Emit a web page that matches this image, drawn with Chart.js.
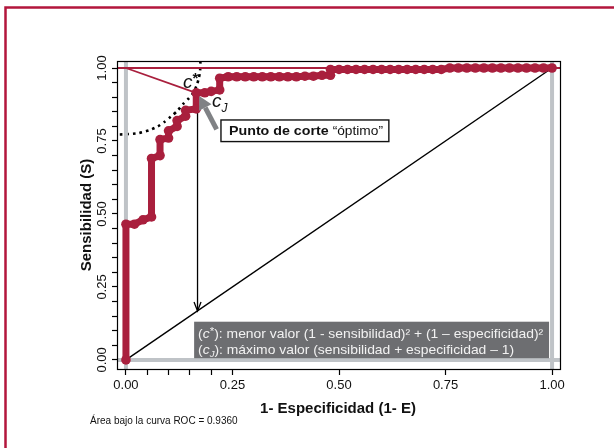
<!DOCTYPE html>
<html><head><meta charset="utf-8">
<script src="https://cdn.jsdelivr.net/npm/chart.js@4/dist/chart.umd.min.js"></script>
<style>html,body{margin:0;padding:0;background:#fff;}canvas{display:block}</style>
</head><body>
<canvas id="c" width="614" height="448"></canvas>
<script>
// ---- data ----
const rocFPR = [0,0,0.02,0.04,0.06,0.06,0.08,0.08,0.10,0.10,0.12,0.12,0.14,0.14,0.165,0.165,0.185,0.20,0.22,0.22,
  0.24,0.26,0.28,0.30,0.32,0.34,0.36,0.38,0.40,0.42,0.44,0.46,0.48,0.48,
  0.50,0.52,0.54,0.56,0.58,0.60,0.62,0.64,0.66,0.68,0.70,0.72,0.74,
  0.76,0.78,0.80,0.82,0.84,0.86,0.88,0.90,0.92,0.94,0.96,0.98,1.00];
const rocTPR = [0,0.465,0.465,0.48,0.49,0.69,0.70,0.755,0.76,0.785,0.80,0.82,0.835,0.855,0.86,0.915,0.915,0.92,0.925,0.965,
  0.97,0.97,0.97,0.97,0.97,0.97,0.97,0.97,0.97,0.972,0.972,0.975,0.975,0.995,
  0.995,0.995,0.995,0.995,0.995,0.995,0.995,0.995,0.995,0.995,0.995,0.995,0.995,
  1,1,1,1,1,1,1,1,1,1,1,1,1];
const diagX = [0, 1];
const diagY = [0, 1];
const dotCurveX = [-0.03,0.0,0.03,0.055,0.075,0.09,0.105,0.12,0.135,0.148,0.158,0.166,0.171,0.174,0.175];
const dotCurveY = [0.772,0.773,0.777,0.787,0.80,0.815,0.833,0.852,0.878,0.897,0.915,0.94,0.965,0.99,1.04];
const cStarLineX = [0, 0.158];
const cStarLineY = [1, 0.918];
const cutLineX = [0.168, 0.168];
const cutLineY = [0.915, 0.168];
const topLineX = [-0.05, 1.05];
const topLineY = [1, 1];
const xTickValues = [0,0.05,0.10,0.15,0.20,0.25,0.50,0.75,1.00];
const xTickLabels = ['0.00','','','','','0.25','0.50','0.75','1.00'];
const yTickValues = [0,0.05,0.10,0.15,0.20,0.25,0.30,0.35,0.40,0.45,0.50,0.55,0.60,0.65,0.70,0.75,0.80,0.85,0.90,0.95,1.00];
const yLabelValues = [0,0.25,0.50,0.75,1.00];
const yLabelTexts = ['0.00','0.25','0.50','0.75','1.00'];
const xTitle = '1- Especificidad (1- E)';
const yTitle = 'Sensibilidad (S)';
const footnote = 'Área bajo la curva ROC = 0.9360';
const boxTextBold = 'Punto de corte ';
const boxTextNormal = '\u201Cóptimo\u201D';
const legendLine1 = '): menor valor (1 - sensibilidad)\u00B2 + (1 \u2013 especificidad)\u00B2';
const legendLine2 = '): máximo valor (sensibilidad + especificidad \u2013 1)';

const RED = '#a91f3d';
const GRAY = '#bfc3c7';
const FONT = "'Liberation Sans', Arial, Helvetica, sans-serif";

const pts = (xs, ys) => xs.map((v, i) => ({x: v, y: ys[i]}));

function rich(ctx, segs, x, yb, sx) {
  ctx.save(); ctx.translate(x, yb); ctx.scale(sx, 1);
  let cx = 0;
  segs.forEach(s => { ctx.font = s[1]; ctx.fillText(s[0], cx, s[2] || 0); cx += ctx.measureText(s[0]).width; });
  ctx.restore();
}
function segWidth(ctx, segs) {
  let w = 0; segs.forEach(s => { ctx.font = s[1]; w += ctx.measureText(s[0]).width; }); return w;
}

const deco = {
  id: 'deco',
  beforeDraw(chart) {
    const c = chart.ctx; c.save(); c.fillStyle = '#fff'; c.fillRect(0, 0, chart.width, chart.height); c.restore();
  },
  afterDatasetsDraw(chart) {
    const {ctx, scales: {x, y}, chartArea: a} = chart;
    const X = v => x.getPixelForValue(v), Y = v => y.getPixelForValue(v);
    ctx.save();
    // plot frame
    ctx.strokeStyle = '#000'; ctx.lineWidth = 1.2;
    ctx.strokeRect(a.left + 0.5, a.top + 0.5, a.right - a.left - 1, a.bottom - a.top);

    // arrowhead of vertical cut line
    const tx = X(cutLineX[1]), ty = Y(cutLineY[1]);
    ctx.strokeStyle = '#000'; ctx.lineWidth = 1.3;
    ctx.beginPath(); ctx.moveTo(tx - 3.5, ty - 9); ctx.lineTo(tx, ty); ctx.lineTo(tx + 3.5, ty - 9); ctx.stroke();

    // gray arrow to c_J
    const gx0 = X(0.2128), gy0 = Y(0.79), gx1 = X(0.172), gy1 = Y(0.904);
    const ang = Math.atan2(gy1 - gy0, gx1 - gx0);
    const hl = 13, hw = 7;
    const bx = gx1 - hl * Math.cos(ang), by = gy1 - hl * Math.sin(ang);
    ctx.strokeStyle = '#808285'; ctx.fillStyle = '#808285'; ctx.lineWidth = 5;
    ctx.beginPath(); ctx.moveTo(gx0, gy0); ctx.lineTo(bx, by); ctx.stroke();
    ctx.beginPath(); ctx.moveTo(gx1, gy1);
    ctx.lineTo(bx + hw * Math.sin(ang), by - hw * Math.cos(ang));
    ctx.lineTo(bx - hw * Math.sin(ang), by + hw * Math.cos(ang));
    ctx.closePath(); ctx.fill();

    // c* and c_J labels
    ctx.fillStyle = '#111'; ctx.textBaseline = 'alphabetic'; ctx.textAlign = 'left';
    rich(ctx, [['c', 'italic 19px ' + FONT], ['*', 'bold 15px ' + FONT, -5]], X(0.134), Y(0.93), 1);
    rich(ctx, [['c', 'italic 19px ' + FONT], ['J', 'italic 12px ' + FONT, 5]], X(0.202), Y(0.868), 1);

    // "Punto de corte" box
    const bl = X(0.223), br = X(0.617), bt = Y(0.822), bb = Y(0.748);
    ctx.fillStyle = '#fff'; ctx.fillRect(bl, bt, br - bl, bb - bt);
    ctx.strokeStyle = '#111'; ctx.lineWidth = 1.4; ctx.strokeRect(bl, bt, br - bl, bb - bt);
    ctx.fillStyle = '#111';
    const bsegs = [[boxTextBold, 'bold 13.5px ' + FONT], [boxTextNormal, '13px ' + FONT]];
    rich(ctx, bsegs, bl + 8, (bt + bb) / 2 + 4.5, 154 / segWidth(ctx, bsegs));

    // legend box
    const ll = X(0.16), lr = X(0.993), lt = Y(0.131), lb = Y(0.006);
    ctx.fillStyle = '#6d6e71'; ctx.fillRect(ll, lt, lr - ll, lb - lt);
    ctx.fillStyle = '#f2f2f2';
    const f = '13px ' + FONT, fi = 'italic 13px ' + FONT;
    const l1 = [['(', f], ['c', fi], ['*', '11px ' + FONT, -3], [legendLine1, f]];
    const l2 = [['(', f], ['c', fi], ['J', 'italic 9px ' + FONT, 3], [legendLine2, f]];
    const sx = 345 / segWidth(ctx, l1);
    rich(ctx, l1, ll + 4, lt + 16, sx);
    rich(ctx, l2, ll + 4, lt + 32, sx);
    ctx.restore();
  },
  afterDraw(chart) {
    const {ctx, scales: {y}, chartArea: a} = chart;
    ctx.save();
    ctx.fillStyle = '#111';
    // y tick labels (rotated)
    ctx.font = '13px ' + FONT; ctx.textAlign = 'center'; ctx.textBaseline = 'middle';
    yLabelValues.forEach((v, i) => {
      ctx.save(); ctx.translate(102, y.getPixelForValue(v)); ctx.rotate(-Math.PI / 2);
      ctx.fillText(yLabelTexts[i], 0, 0); ctx.restore();
    });
    // y title
    ctx.font = 'bold 15px ' + FONT;
    ctx.save(); ctx.translate(87, (a.top + a.bottom) / 2); ctx.rotate(-Math.PI / 2);
    ctx.fillText(yTitle, 0, 0); ctx.restore();
    // x title
    ctx.fillText(xTitle, (a.left + a.right) / 2 - 1, 409);
    // footnote
    ctx.font = '10px ' + FONT; ctx.textAlign = 'left';
    ctx.fillText(footnote, 90, 421);
    // outer frame
    ctx.strokeStyle = '#b3163c'; ctx.lineWidth = 2.5;
    ctx.strokeRect(5.5, 7.5, 700, 600);
    ctx.restore();
  }
};

new Chart(document.getElementById('c'), {
  type: 'scatter',
  data: {
    datasets: [
      {label: 'ROC', data: pts(rocFPR, rocTPR), showLine: true, borderColor: RED, backgroundColor: RED,
       borderWidth: 7, pointRadius: 4.8, pointBorderWidth: 0, borderCapStyle: 'round', borderJoinStyle: 'round', order: 1},
      {label: 'top', data: pts(topLineX, topLineY), showLine: true, borderColor: RED, borderWidth: 2.2, pointRadius: 0, order: 2},
      {label: 'cstar', data: pts(cStarLineX, cStarLineY), showLine: true, borderColor: RED, borderWidth: 1.8, pointRadius: 0, order: 3},
      {label: 'cut', data: pts(cutLineX, cutLineY), showLine: true, borderColor: '#000', borderWidth: 1.3, pointRadius: 0, order: 4},
      {label: 'diag', data: pts(diagX, diagY), showLine: true, borderColor: '#000', borderWidth: 1.4, pointRadius: 0, order: 5},
      {label: 'g0', data: [{x: 0, y: -0.1}, {x: 0, y: 1.1}], showLine: true, borderColor: GRAY, borderWidth: 4, pointRadius: 0, order: 6},
      {label: 'g1', data: [{x: 1, y: -0.1}, {x: 1, y: 1.1}], showLine: true, borderColor: GRAY, borderWidth: 4, pointRadius: 0, order: 7},
      {label: 'gh', data: [{x: -0.1, y: 0}, {x: 1.1, y: 0}], showLine: true, borderColor: GRAY, borderWidth: 4, pointRadius: 0, order: 8},
      {label: 'dots', data: pts(dotCurveX, dotCurveY), showLine: true, borderColor: '#000', borderWidth: 2.6,
       borderDash: [2.6, 4], pointRadius: 0, tension: 0.2, order: 9}
    ]
  },
  options: {
    responsive: false, animation: false, devicePixelRatio: 1,
    layout: {padding: {left: 0, top: 61, right: 53, bottom: 0}},
    plugins: {legend: {display: false}, tooltip: {enabled: false}},
    scales: {
      x: {
        type: 'linear', min: -0.021, max: 1.021,
        afterBuildTicks: s => { s.ticks = xTickValues.map(v => ({value: v})); },
        afterFit: s => { s.height = 79; },
        ticks: {autoSkip: false, maxRotation: 0, minRotation: 0, padding: 3, color: '#111',
          font: {family: FONT, size: 13},
          callback: (v, i) => xTickLabels[i]},
        grid: {drawOnChartArea: false, drawTicks: true, tickLength: 6, tickColor: '#000', tickWidth: 1.2},
        border: {display: false}
      },
      y: {
        type: 'linear', min: -0.031, max: 1.024,
        afterBuildTicks: s => { s.ticks = yTickValues.map(v => ({value: v})); },
        afterFit: s => { s.width = 117; },
        ticks: {autoSkip: false, callback: () => '', padding: 0},
        grid: {drawOnChartArea: false, drawTicks: true, tickLength: 5, tickColor: '#000', tickWidth: 1.2},
        border: {display: false}
      }
    }
  },
  plugins: [deco]
});
</script>
</body></html>
